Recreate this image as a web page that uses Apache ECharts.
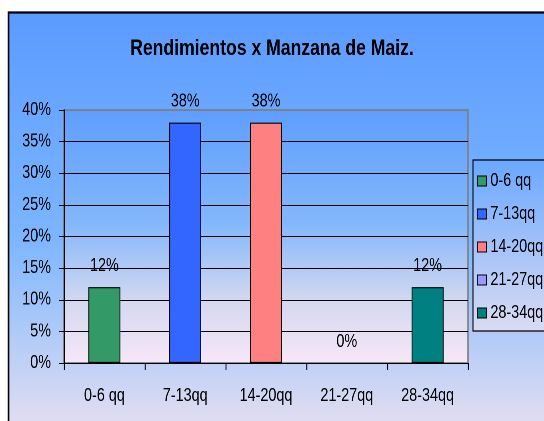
<!DOCTYPE html>
<html>
<head>
<meta charset="utf-8">
<script src="https://cdn.jsdelivr.net/npm/echarts@6/dist/echarts.min.js"></script>
<style>
html,body{margin:0;padding:0;background:#fff;overflow:hidden;}
#wrap{width:544px;height:421px;overflow:hidden;position:relative;}
#c{width:680px;height:421px;transform:scaleX(0.8);transform-origin:0 0;position:absolute;left:0;top:0;}
</style>
</head>
<body>
<div id="wrap"><div id="c"></div></div>
<script>
var categories = ['0-6 qq', '7-13qq', '14-20qq', '21-27qq', '28-34qq'];
var values = [12, 38, 38, 0, 12];
var colors = ['#339966', '#3366FF', '#FF8080', '#9999FF', '#008080'];
var yTicks = [0, 5, 10, 15, 20, 25, 30, 35, 40];
var titleText = 'Rendimientos x Manzana de Maiz.';

// The chart is drawn 1/0.8 wider and squeezed horizontally (Arial Narrow look).
var S = 0.8;
function hx(px) { return px / S; }

var FONT = "'Liberation Sans', Arial, sans-serif";
var chart = echarts.init(document.getElementById('c'), null, {renderer: 'canvas', devicePixelRatio: 2});

var series = categories.map(function (name, i) {
  var d = categories.map(function (_, j) { return j === i ? values[i] : '-'; });
  return {
    name: name,
    type: 'bar',
    data: d,
    barWidth: hx(32),
    barGap: '-100%',
    itemStyle: {color: colors[i], borderColor: '#000', borderWidth: values[i] === 0 ? 0 : 1.1},
    label: {
      show: true, position: 'top', distance: 12,
      formatter: function (p) { return p.value + '%'; },
      color: '#000', fontFamily: FONT, fontSize: 18
    },
    emphasis: {disabled: true}
  };
});

var splitColors = yTicks.map(function (t, i) { return i === yTicks.length - 1 ? '#808080' : '#000'; });

chart.setOption({
  animation: false,
  graphic: [{
    type: 'rect', z: -10, silent: true,
    shape: {x: hx(8.5), y: 12.5, width: 800, height: 500},
    style: {
      fill: new echarts.graphic.LinearGradient(0, 0, 0, 1, [
        {offset: 0, color: '#5b9bff'},
        {offset: 0.45, color: '#7cb6ff'},
        {offset: 0.8, color: '#dcdcf2'},
        {offset: 1, color: '#fbe8f6'}
      ]),
      stroke: '#000', lineWidth: 2.2
    }
  }],
  title: {
    text: titleText, left: hx(268), top: 33, textAlign: 'center',
    textStyle: {fontFamily: FONT, fontWeight: 'bold', fontSize: 22, color: '#000'}
  },
  legend: {
    orient: 'vertical', left: hx(473), top: 160,
    width: 200,
    padding: [12, 60, 9, hx(4)],
    itemGap: 15, itemWidth: hx(9), itemHeight: 10,
    icon: 'rect',
    backgroundColor: new echarts.graphic.LinearGradient(0, 0, 0, 1, [
      {offset: 0, color: '#6aa8ff'},
      {offset: 1, color: '#dcdcf2'}
    ]),
    borderColor: '#000', borderWidth: 1.2,
    textStyle: {fontFamily: FONT, fontSize: 18, color: '#000', lineHeight: 16},
    itemStyle: {borderColor: '#000', borderWidth: 1},
    data: categories
  },
  grid: {
    left: hx(64), right: 680 - hx(468), top: 110, bottom: 58,
    show: true, borderColor: '#808080', borderWidth: 1.8,
    backgroundColor: new echarts.graphic.LinearGradient(0, 0, 0, 1, [
      {offset: 0, color: '#5e9eff'},
      {offset: 0.45, color: '#84b8fb'},
      {offset: 0.75, color: '#d4d8f0'},
      {offset: 1, color: '#f8e8f8'}
    ])
  },
  xAxis: {
    type: 'category', data: categories,
    axisLine: {lineStyle: {color: '#000', width: 1}},
    axisTick: {show: true, length: 7, lineStyle: {color: '#000', width: 1.25}},
    axisLabel: {interval: 0, margin: 24, fontFamily: FONT, fontSize: 18, color: '#000'}
  },
  yAxis: {
    type: 'value', min: 0, max: 40, interval: 5,
    axisLine: {show: true, lineStyle: {color: '#000', width: 1.25}},
    axisTick: {show: true, length: hx(5), lineStyle: {color: '#000'}},
    axisLabel: {margin: hx(13), fontFamily: FONT, fontSize: 18, color: '#000', formatter: '{value}%'},
    splitLine: {show: true, lineStyle: {color: splitColors, width: 1}}
  },
  series: series
});
</script>
</body>
</html>
